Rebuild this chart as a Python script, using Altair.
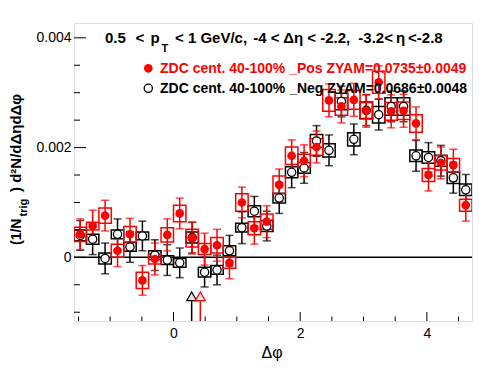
import altair as alt
import pandas as pd
import numpy as np

PI = np.pi
NB = 32
BW = 2 * PI / NB
dphi = [-PI / 2 + (i + 0.5) * BW for i in range(NB)]

# Pos (red, filled) values, stat errors, sys errors
pos_y = [0.42, 0.57, 0.76, 0.12, 0.42, -0.42, -0.03, 0.41, 0.80, 0.35, 0.15, 0.22, -0.10, 1.00, 0.53, 0.65,
         1.32, 1.85, 1.76, 2.01, 2.86, 2.75, 2.87, 2.67, 3.19, 2.66, 2.67, 2.44, 1.50, 1.72, 1.68, 0.95]
pos_stat = [0.28, 0.29, 0.28, 0.29, 0.29, 0.27, 0.29, 0.29, 0.28, 0.29, 0.29, 0.29, 0.29, 0.28, 0.29, 0.29,
            0.29, 0.29, 0.29, 0.29, 0.30, 0.30, 0.30, 0.30, 0.30, 0.30, 0.30, 0.30, 0.29, 0.29, 0.29, 0.29]
pos_sys = [1.3, 0.7, 1.4, 1.2, 1.4, 1.5, 0.9, 1.3, 1.5, 1.6, 1.0, 1.4, 1.0, 1.6, 1.2, 1.4,
           1.6, 1.6, 1.2, 1.5, 2.0, 1.6, 1.7, 1.5, 2.0, 1.6, 1.6, 1.6, 1.2, 1.3, 1.2, 1.1]

# Neg (black, open) values
neg_y = [0.40, 0.33, -0.02, 0.42, 0.19, 0.39, 0.04, -0.05, -0.10, 0.36, -0.27, -0.23, 0.12, 0.54, 0.84, 0.57,
         1.08, 1.55, 1.63, 2.12, 1.95, 2.84, 2.15, 2.68, 2.60, 2.75, 2.75, 1.85, 1.82, 1.76, 1.45, 1.23]
neg_stat = [0.27, 0.28, 0.28, 0.28, 0.28, 0.27, 0.28, 0.28, 0.27, 0.28, 0.27, 0.27, 0.28, 0.29, 0.27, 0.27,
            0.28, 0.28, 0.28, 0.28, 0.28, 0.28, 0.28, 0.28, 0.28, 0.28, 0.28, 0.28, 0.27, 0.28, 0.28, 0.28]
neg_sys = [1.0, 0.9, 1.0, 0.8, 0.8, 0.7, 0.8, 0.8, 0.8, 1.0, 0.9, 0.8, 0.9, 0.8, 1.0, 1.0,
           0.9, 1.0, 1.0, 1.2, 1.2, 1.5, 1.2, 1.5, 1.5, 1.6, 1.6, 1.05, 1.05, 1.0, 1.05, 1.05]

legend_labels = ["ZDC cent. 40-100% _Pos ZYAM=0.0735\u00b10.0049",
                 "ZDC cent. 40-100% _Neg ZYAM=0.0686\u00b10.0048"]

# ZYAM arrows (x position, top of stem)
arrow_x = [0.287, 0.423]
arrow_tip = -0.00071
arrow_stem_top = -0.00080

x_major = [0, 2, 4]
x_minor = [-1.5, -1, -0.5, 0.5, 1, 1.5, 2.5, 3, 3.5, 4.5]
y_major = [0, 0.002, 0.004]
y_minor = [-0.001, -0.0005, 0.0005, 0.001, 0.0015, 0.0025, 0.003, 0.0035]

XMIN, XMAX = -PI / 2, 3 * PI / 2
YMIN, YMAX = -0.00116, 0.00427
W, H = 398, 298
FONT = "Liberation Sans"
RED = "#ff0000"

xs = alt.Scale(domain=[XMIN, XMAX], nice=False, zero=False)
ys = alt.Scale(domain=[YMIN, YMAX], nice=False, zero=False)
xaxis = alt.Axis(values=x_major, ticks=False, domain=False, grid=False, labelFontSize=14, labelFont=FONT,
                 labelColor="black", labelPadding=5, labelOverlap=False, labelFlush=False, title=None)
yaxis = alt.Axis(values=y_major, ticks=False, domain=False, grid=False, labelFontSize=14, labelFont=FONT,
                 labelColor="black", labelPadding=3, labelOverlap=False, labelFlush=False, format=".3~f",
                 title=None)


def X(f):
    return alt.X(f, type="quantitative", scale=xs, axis=xaxis, title=None)


def Y(f):
    return alt.Y(f, type="quantitative", scale=ys, axis=yaxis, title=None)


def series_df(vals, stat, sys):
    d = pd.DataFrame({"x": dphi, "y": np.array(vals) * 1e-3,
                      "stat": np.array(stat) * 1e-3, "sys": np.array(sys) * 1e-4})
    d["x0"] = d["x"] - BW / 2
    d["x1"] = d["x"] + BW / 2
    d["lo"] = d["y"] - d["stat"]
    d["hi"] = d["y"] + d["stat"]
    d["slo"] = d["y"] - d["sys"]
    d["shi"] = d["y"] + d["sys"]
    return d


pos = series_df(pos_y, pos_stat, pos_sys)
neg = series_df(neg_y, neg_stat, neg_sys)


def boxes(d, col):
    return alt.Chart(d).mark_rect(filled=False, stroke=col, strokeWidth=1.5, clip=True).encode(
        x=X("x0"), x2="x1", y=Y("slo"), y2="shi")


def errs(d, col):
    bar = alt.Chart(d).mark_rule(color=col, strokeWidth=1.5, clip=True).encode(x=X("x"), y=Y("lo"), y2="hi")
    c1 = alt.Chart(d).mark_tick(color=col, orient="horizontal", size=8, thickness=1.5, clip=True).encode(
        x=X("x"), y=Y("lo"))
    c2 = alt.Chart(d).mark_tick(color=col, orient="horizontal", size=8, thickness=1.5, clip=True).encode(
        x=X("x"), y=Y("hi"))
    return [bar, c1, c2]


MS_RED = 75
MS_BLK = 68


def red_pts(d):
    return alt.Chart(d).mark_point(shape="circle", filled=True, color=RED, size=MS_RED, opacity=1).encode(
        x=X("x"), y=Y("y"))


def black_pts(d):
    return alt.Chart(d).mark_point(shape="circle", filled=True, fill="white", stroke="black",
                                   strokeWidth=1.3, size=MS_BLK, opacity=1).encode(x=X("x"), y=Y("y"))


zero = alt.Chart(pd.DataFrame({"y": [0.0]})).mark_rule(color="black", strokeWidth=1.5).encode(
    y=Y("y"), x=alt.value(0), x2=alt.value(W))

# ticks (inside the frame)
xmaj = alt.Chart(pd.DataFrame({"t": x_major})).mark_rule(color="black", strokeWidth=1).encode(
    x=X("t"), y=alt.value(H), y2=alt.value(H - 9))
xmin_ = alt.Chart(pd.DataFrame({"t": x_minor})).mark_rule(color="black", strokeWidth=1).encode(
    x=X("t"), y=alt.value(H), y2=alt.value(H - 4.5))
ymaj = alt.Chart(pd.DataFrame({"t": y_major})).mark_rule(color="black", strokeWidth=1).encode(
    y=Y("t"), x=alt.value(0), x2=alt.value(12))
ymin_ = alt.Chart(pd.DataFrame({"t": y_minor})).mark_rule(color="black", strokeWidth=1).encode(
    y=Y("t"), x=alt.value(0), x2=alt.value(6))

# arrows
adf = pd.DataFrame({"x": arrow_x, "b": [YMIN, YMIN], "t": [arrow_stem_top, arrow_stem_top],
                    "tip": [arrow_tip, arrow_tip], "c": ["neg", "pos"]})
acol = alt.Scale(domain=["neg", "pos"], range=["black", RED])
afill = alt.Scale(domain=["neg", "pos"], range=["#e6e6e6", "#fbe4e4"])
astem = alt.Chart(adf).mark_rule(strokeWidth=1.5).encode(
    x=X("x"), y=Y("b"), y2="t", color=alt.Color("c:N", scale=acol, legend=None))
ahead = alt.Chart(adf).mark_point(shape="triangle-up", filled=True, size=100, strokeWidth=1.2, opacity=1).encode(
    x=X("x"), y=Y("tip"), fill=alt.Fill("c:N", scale=afill, legend=None),
    stroke=alt.Stroke("c:N", scale=acol, legend=None))


def txt(s, x, y, size=14, weight="bold", color="black", angle=0, align="left", baseline="alphabetic"):
    return alt.Chart(pd.DataFrame({"s": [s]})).mark_text(
        font=FONT, fontSize=size, fontWeight=weight, color=color, angle=angle, align=align,
        baseline=baseline).encode(text="s:N", x=alt.value(x), y=alt.value(y))


OX, OY = 74, 23  # page offset of plot area
TB = 42.5  # title baseline (page)
TS = 15
TH = "\u2009"
texts = [
    txt("0.5", 105 - OX, TB - OY, TS),
    txt("<", 135.5 - OX, TB - OY, TS),
    txt("p", 150.5 - OX, TB - OY, TS),
    txt("T", 161.5 - OX, TB + 9.5 - OY, 11),
    txt("< 1 GeV/c,", 175 - OX, TB - OY, TS),
    txt("-4 < \u0394\u03b7 < -2.2,", 253.3 - OX, TB - OY, TS),
    txt("-3.2<" + TH + "\u03b7" + TH + "<-2.8", 358.3 - OX, TB - OY, TS),
    txt(legend_labels[0], 160 - OX, 68.5 - OY, 14, color=RED, baseline="middle"),
    txt(legend_labels[1], 160 - OX, 88.5 - OY, 14, color="black", baseline="middle"),
    txt("\u0394\u03c6", 272 - OX, 352.5 - OY, 16, weight="normal", align="center", baseline="middle"),
    txt("(1/N", 20.5 - OX, 245 - OY, 14, angle=270),
    txt("trig", 27 - OX, 216.5 - OY, 11, angle=270),
    txt(") d\u00b2N/d\u0394\u03b7d\u0394\u03c6", 20.5 - OX, 192 - OY, 15, angle=270),
]

leg_df = pd.DataFrame({"k": [0]})
leg_red = alt.Chart(leg_df).mark_point(shape="circle", filled=True, color=RED, size=MS_RED, opacity=1).encode(
    x=alt.value(148.3 - OX), y=alt.value(68.3 - OY))
leg_blk = alt.Chart(leg_df).mark_point(shape="circle", filled=True, fill="white", stroke="black",
                                       strokeWidth=1.3, size=MS_BLK, opacity=1).encode(
    x=alt.value(148.3 - OX), y=alt.value(88.3 - OY))

layers = [zero, xmaj, xmin_, ymaj, ymin_,
          boxes(neg, "black"), boxes(pos, RED)] + errs(neg, "black") + errs(pos, RED) + \
         [black_pts(neg), red_pts(pos), astem, ahead, leg_red, leg_blk] + texts

chart = alt.layer(*layers).properties(
    width=W, height=H, autosize="none",
    padding={"left": OX - 8, "top": OY - 8, "right": 16, "bottom": 45},
).configure_view(stroke="black", strokeWidth=1.5).configure(background="white")

chart.save("out.html", embed_options={"renderer": "svg", "actions": False})
